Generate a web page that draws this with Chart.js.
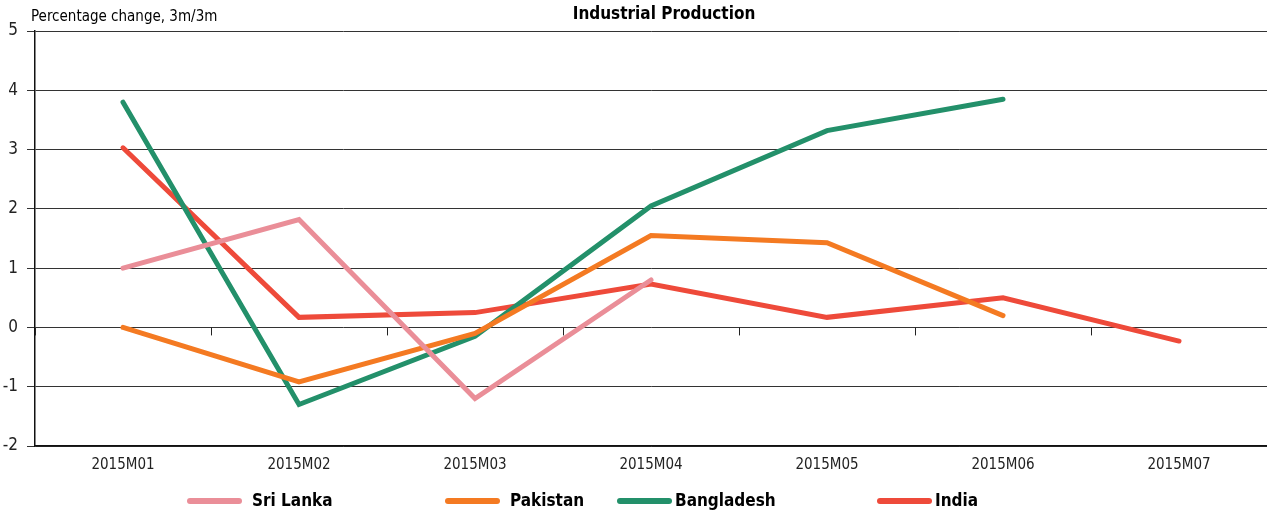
<!DOCTYPE html>
<html>
<head>
<meta charset="utf-8">
<script src="https://cdn.jsdelivr.net/npm/chart.js@4"></script>
<style>
  html,body{margin:0;padding:0;background:#fff;}
  #wrap{position:relative;width:1267px;height:517px;}
  canvas{display:block;}
</style>
</head>
<body>
<div id="wrap"><canvas id="c" width="1267" height="517"></canvas></div>
<script>
// data
const months = ["2015M01","2015M02","2015M03","2015M04","2015M05","2015M06","2015M07"];
const sriLanka   = [1.0, 1.82, -1.2, 0.8, null, null, null];
const pakistan   = [0.0, -0.92, -0.1, 1.55, 1.43, 0.2, null];
const bangladesh = [3.8, -1.3, -0.15, 2.05, 3.32, 3.85, null];
const india      = [3.03, 0.17, 0.25, 0.73, 0.17, 0.5, -0.23];
const yTicks = [-2,-1,0,1,2,3,4,5];

const FONT = "'DejaVu Sans Condensed', 'Liberation Sans Narrow', sans-serif";
const legendX = [187, 445, 617, 877];  // where each legend item starts

const mk = (label, data, color) => ({
  label, data, borderColor: color, backgroundColor: color,
  borderWidth: 5, pointRadius: 0, tension: 0,
  borderCapStyle: 'round', borderJoinStyle: 'miter', spanGaps: false
});

// zero-line ticks + title + axis caption + legend
const extras = {
  id: 'extras',
  beforeDatasetsDraw(chart) {
    const {ctx, scales:{x, y}, chartArea} = chart;
    const y0 = y.getPixelForValue(0);
    const step = x.getPixelForValue(1) - x.getPixelForValue(0);
    ctx.save();
    ctx.strokeStyle = '#222'; ctx.lineWidth = 1;
    ctx.beginPath();
    for (let i = 0; i <= months.length; i++) {
      const px = Math.round(x.getPixelForValue(0) - step/2 + i*step) + 0.5;
      if (px > chartArea.right) break;
      ctx.moveTo(px, y0); ctx.lineTo(px, y0 + 8);
    }
    ctx.stroke();
    ctx.restore();
  },
  afterDraw(chart) {
    const {ctx} = chart;
    ctx.save();
    ctx.fillStyle = '#000';
    ctx.textBaseline = 'middle';
    ctx.font = `bold 17px ${FONT}`;
    ctx.textAlign = 'center';
    ctx.fillText('Industrial Production', 664, 15);
    ctx.font = `15px ${FONT}`;
    ctx.textAlign = 'left';
    ctx.fillText('Percentage change, 3m/3m', 31, 17);
    // legend
    chart.data.datasets.forEach((ds, i) => {
      const lx = legendX[i], ly = 501;
      ctx.strokeStyle = ds.borderColor; ctx.lineWidth = 6; ctx.lineCap = 'round';
      ctx.beginPath(); ctx.moveTo(lx + 3, ly); ctx.lineTo(lx + 52, ly); ctx.stroke();
      ctx.font = `bold 17px ${FONT}`;
      ctx.fillStyle = '#000';
      ctx.fillText(ds.label, lx + (i >= 2 ? 58 : 65), ly + 1);
    });
    ctx.restore();
  }
};

new Chart(document.getElementById('c'), {
  type: 'line',
  data: {
    labels: months,
    datasets: [
      mk('Sri Lanka', sriLanka, '#EA8E98'),
      mk('Pakistan', pakistan, '#F47A22'),
      mk('Bangladesh', bangladesh, '#23906A'),
      mk('India', india, '#EE4A3A')
    ]
  },
  options: {
    responsive: false,
    animation: false,
    layout: {padding: {top: 31, right: 0, bottom: 31, left: 0}},
    plugins: {legend: {display: false}, title: {display: false}, tooltip: {enabled: false}},
    scales: {
      x: {
        offset: true,
        grid: {display: false, drawTicks: false},
        border: {display: true, color: '#111', width: 1.5},
        ticks: {color: '#222', font: {family: FONT, size: 15}, padding: 10, maxRotation: 0, autoSkip: false},
        afterFit: s => { s.height = 40; }
      },
      y: {
        min: -2, max: 5,
        afterBuildTicks: s => { s.ticks = yTicks.map(v => ({value: v})); },
        grid: {color: '#333', lineWidth: 1, tickLength: 8, drawOnChartArea: true},
        border: {display: true, color: '#111', width: 1.5},
        ticks: {color: '#222', font: {family: FONT, size: 17}, padding: 9},
        afterFit: s => { s.width = 35; }
      }
    }
  },
  plugins: [extras]
});
</script>
</body>
</html>
